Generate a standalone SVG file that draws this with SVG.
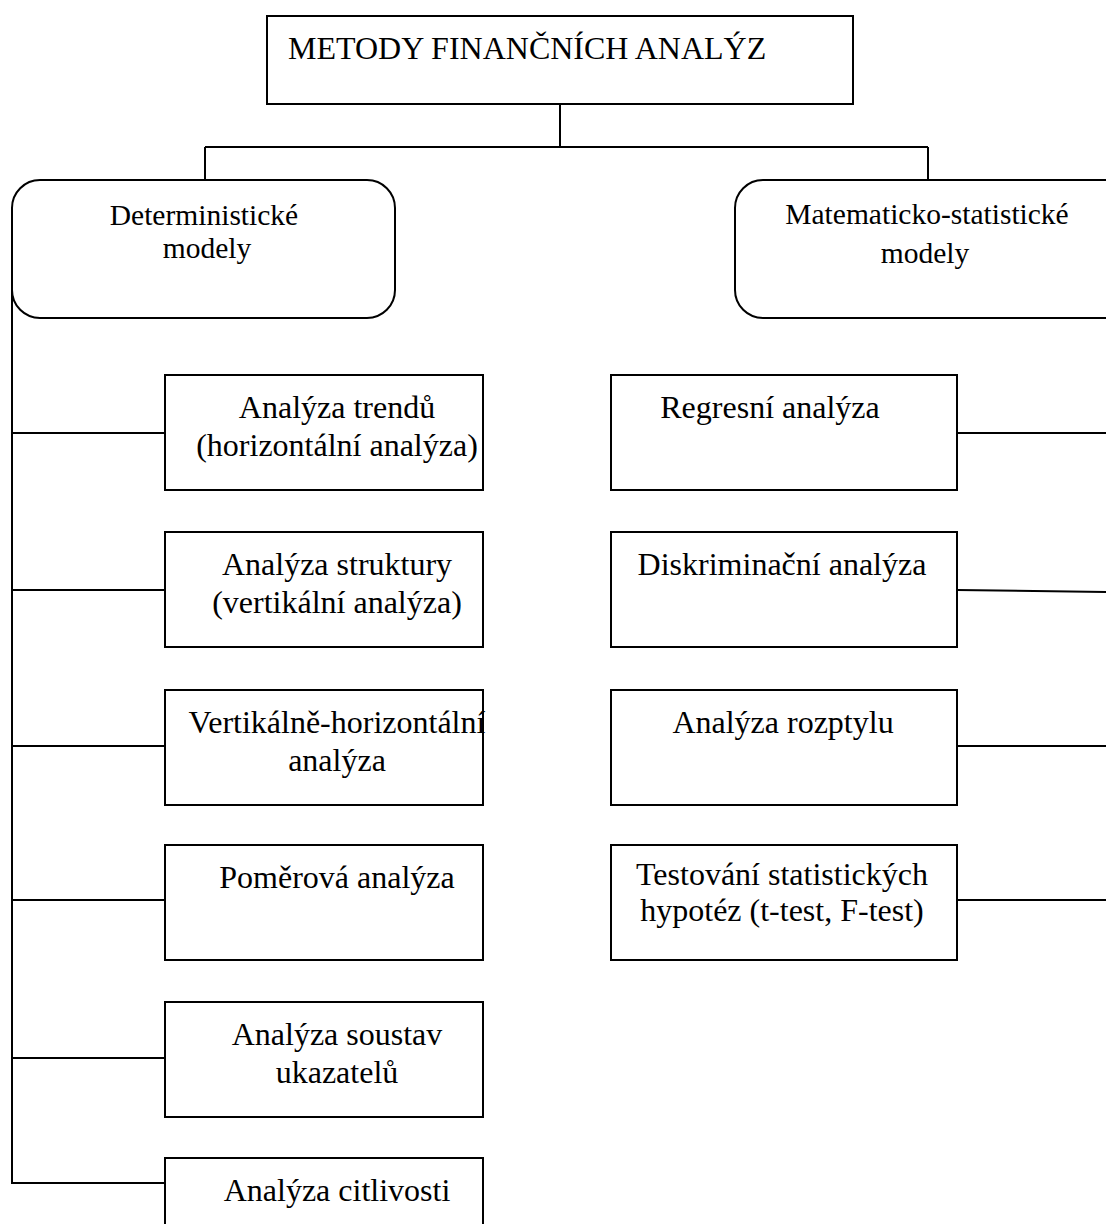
<svg xmlns="http://www.w3.org/2000/svg" width="1106" height="1224" viewBox="0 0 1106 1224">
<style>
.b{fill:#fff;stroke:#000;stroke-width:2}
.c{fill:none;stroke:#000;stroke-width:2}
text{font-family:"Liberation Serif","Times New Roman",serif;font-size:32px;fill:#000;text-anchor:middle}
.s{font-size:29.5px}
</style>
<rect width="1106" height="1224" fill="#fff"/>
<g id="connectors">
<path class="c" d="M560 104V147M205 147H928M205 147V180M928 147V180"/>
<path class="c" d="M12 250V1183H165"/>
<path class="c" d="M12 433H165M12 590H165M12 746H165M12 900H165M12 1058H165"/>
<path class="c" d="M957 433H1106M957 590L1106 592M957 746H1106M957 900H1106"/>
</g>
<g id="root"><rect class="b" x="267" y="16" width="586" height="88"/><text x="288" y="59" style="text-anchor:start">METODY FINANČNÍCH ANALÝZ</text></g>
<g id="det"><rect class="b" x="12" y="180" width="383" height="138" rx="28"/><text class="s" x="204" y="225">Deterministické</text><text class="s" x="207" y="258">modely</text></g>
<g id="mat"><rect class="b" x="735" y="180" width="400" height="138" rx="28"/><text class="s" x="927" y="224">Matematicko-statistické</text><text class="s" x="925" y="263">modely</text></g>
<g id="l1"><rect class="b" x="165" y="375" width="318" height="115"/><text x="337" y="418">Analýza trendů</text><text x="337" y="456">(horizontální analýza)</text></g>
<g id="l2"><rect class="b" x="165" y="532" width="318" height="115"/><text x="337" y="575">Analýza struktury</text><text x="337" y="613">(vertikální analýza)</text></g>
<g id="l3"><rect class="b" x="165" y="690" width="318" height="115"/><text x="337" y="733">Vertikálně-horizontální</text><text x="337" y="771">analýza</text></g>
<g id="l4"><rect class="b" x="165" y="845" width="318" height="115"/><text x="337" y="888">Poměrová analýza</text></g>
<g id="l5"><rect class="b" x="165" y="1002" width="318" height="115"/><text x="337" y="1045">Analýza soustav</text><text x="337" y="1083">ukazatelů</text></g>
<g id="l6"><rect class="b" x="165" y="1158" width="318" height="115"/><text x="337" y="1201">Analýza citlivosti</text></g>
<g id="r1"><rect class="b" x="611" y="375" width="346" height="115"/><text x="770" y="418">Regresní analýza</text></g>
<g id="r2"><rect class="b" x="611" y="532" width="346" height="115"/><text x="782" y="575">Diskriminační analýza</text></g>
<g id="r3"><rect class="b" x="611" y="690" width="346" height="115"/><text x="783" y="733">Analýza rozptylu</text></g>
<g id="r4"><rect class="b" x="611" y="845" width="346" height="115"/><text x="782" y="885">Testování statistických</text><text x="782" y="921">hypotéz (t-test, F-test)</text></g>
</svg>
